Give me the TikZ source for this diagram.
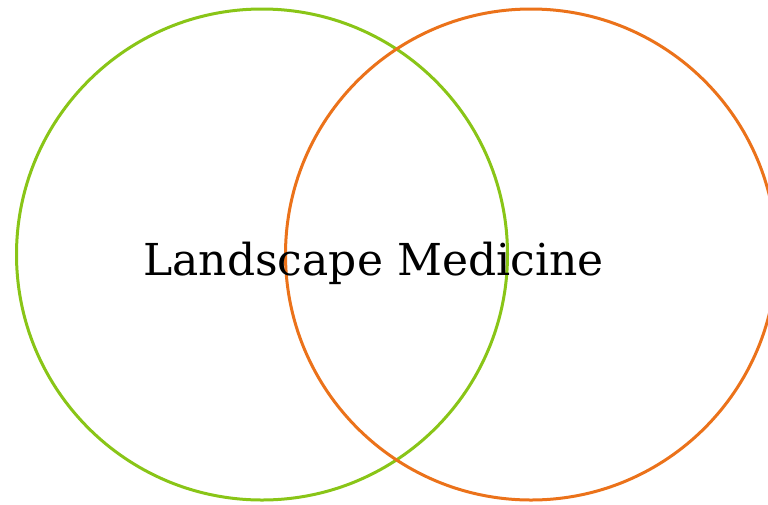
\documentclass[tikz,border=0pt]{standalone}
\usepackage{fontspec}
\setmainfont{DejaVu Serif}
\definecolor{VennGreen}{RGB}{137,197,23}
\definecolor{VennOrange}{RGB}{235,114,26}
\tikzset{
  anel/.style={circle, draw, line width=3pt, minimum size=491pt, inner sep=0pt},
  rotulo/.style={font=\fontsize{44}{52}\selectfont, anchor=base, inner sep=0pt},
}
\begin{document}
\begin{tikzpicture}[x=1pt,y=-1pt]
  \useasboundingbox (0,0) rectangle (768,504);
  % dois conjuntos sobrepostos
  \node[anel, draw=VennGreen] (verde) at (262,254.5) {};
  \node[anel, draw=VennOrange] (laranja) at (531,254.5) {};
  \node[rotulo] (titulo) at (373.5,275) {Landscape Medicine};
\end{tikzpicture}
\end{document}
